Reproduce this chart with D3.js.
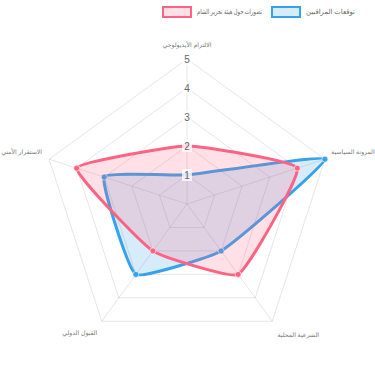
<!DOCTYPE html>
<html>
<head>
<meta charset="utf-8">
<script src="https://cdn.jsdelivr.net/npm/d3@7"></script>
<style>
  body { margin: 0; background: #fff; }
  svg { display: block; font-family: "Liberation Sans", "DejaVu Sans", sans-serif; }
</style>
</head>
<body>
<div id="chart"></div>
<script>
// axes (clockwise from top)
const axes = ["الالتزام الأيديولوجي", "المرونة السياسية", "الشرعية المحلية", "القبول الدولي", "الاستقرار الأمني"];
const seriesNames = ["تصورات حول هيئة تحرير الشام", "توقعات المراقبين"];
const perceptions = [2, 4, 3, 2, 4];
const observers = [1, 5, 2, 3, 3];
const ticks = [1, 2, 3, 4, 5];

const W = 375, H = 375;
const cx = 187, cy = 204, R = 145;
const colors = ["rgb(255,99,132)", "rgb(54,162,235)"];
const fills = ["rgba(255,99,132,0.2)", "rgba(54,162,235,0.2)"];

const svg = d3.select("#chart").append("svg").attr("width", W).attr("height", H);

const r = d3.scaleLinear().domain([0, 5]).range([0, R]);
const angle = d3.scaleLinear().domain([0, axes.length]).range([-Math.PI / 2, 1.5 * Math.PI]);
const pt = (i, v) => [cx + r(v) * Math.cos(angle(i)), cy + r(v) * Math.sin(angle(i))];

// grid
const grid = svg.append("g");
ticks.forEach(t => {
  grid.append("path")
    .attr("d", d3.line()(axes.map((a, i) => pt(i, t))) + "Z")
    .attr("fill", "none").attr("stroke", "rgba(0,0,0,0.1)").attr("stroke-width", 1);
});
axes.forEach((a, i) => {
  const [x, y] = pt(i, 5);
  grid.append("line").attr("x1", cx).attr("y1", cy).attr("x2", x).attr("y2", y)
    .attr("stroke", "rgba(0,0,0,0.1)").attr("stroke-width", 1);
});

// spline like chart.js (tension)
function splinePath(points, tension) {
  const n = points.length;
  const cps = points.map((p, i) => {
    const prev = points[(i - 1 + n) % n], next = points[(i + 1) % n];
    const d01 = Math.hypot(p[0] - prev[0], p[1] - prev[1]);
    const d12 = Math.hypot(next[0] - p[0], next[1] - p[1]);
    const s01 = d01 / (d01 + d12), s12 = d12 / (d01 + d12);
    const fa = tension * s01, fb = tension * s12;
    return {
      prev: [p[0] - fa * (next[0] - prev[0]), p[1] - fa * (next[1] - prev[1])],
      next: [p[0] + fb * (next[0] - prev[0]), p[1] + fb * (next[1] - prev[1])]
    };
  });
  const path = d3.path();
  path.moveTo(points[0][0], points[0][1]);
  for (let i = 0; i < n; i++) {
    const j = (i + 1) % n;
    path.bezierCurveTo(cps[i].next[0], cps[i].next[1], cps[j].prev[0], cps[j].prev[1], points[j][0], points[j][1]);
  }
  path.closePath();
  return path.toString();
}

// draw datasets, last first so first ends on top
const datasets = [perceptions, observers];
for (let k = datasets.length - 1; k >= 0; k--) {
  const pts = datasets[k].map((v, i) => pt(i, v));
  const g = svg.append("g");
  g.append("path").attr("d", splinePath(pts, 0.12))
    .attr("fill", fills[k]).attr("stroke", colors[k]).attr("stroke-width", 3);
  g.selectAll("circle").data(pts).join("circle")
    .attr("cx", d => d[0]).attr("cy", d => d[1]).attr("r", 3)
    .attr("fill", colors[k]).attr("stroke", "rgba(255,255,255,0.6)").attr("stroke-width", 1);
}

// tick labels with backdrop
const tg = svg.append("g");
ticks.forEach(t => {
  const y = cy - r(t);
  tg.append("rect").attr("x", cx - 5).attr("y", y - 6).attr("width", 10).attr("height", 12)
    .attr("fill", "rgba(255,255,255,0.75)");
  tg.append("text").attr("x", cx).attr("y", y).attr("dy", "0.35em")
    .attr("text-anchor", "middle").attr("font-size", 10).attr("fill", "#666").text(t);
});

// point labels
const lg = svg.append("g");
axes.forEach((a, i) => {
  const [x, y] = pt(i, 5);
  let lx = x, ly = y, anchor = "middle";
  if (i === 0) ly = y - 14;
  else if (i === 1) { lx = x + 8; ly = y - 7; anchor = "start"; }
  else if (i === 4) { lx = x - 7; ly = y - 7; anchor = "end"; }
  else if (i === 2) { lx = x + 26; ly = y + 14; }
  else { lx = x - 22; ly = y + 12; }
  const t = lg.append("text").attr("x", lx).attr("y", ly).attr("dy", "0.35em")
    .attr("text-anchor", anchor).attr("font-size", 6.2).attr("fill", "#777").text(a);
  // keep side labels inside the picture
  const bb = t.node().getBBox();
  if (bb.x + bb.width > W) t.attr("x", lx - (bb.x + bb.width - W));
  if (bb.x < 0) t.attr("x", lx - bb.x);
});

// legend
const legend = svg.append("g");
const legendX = [163, 272];
const legendW = [65, 49];
seriesNames.forEach((name, k) => {
  const x0 = legendX[k];
  legend.append("rect").attr("x", x0).attr("y", 7).attr("width", 28).attr("height", 10)
    .attr("fill", fills[k]).attr("stroke", colors[k]).attr("stroke-width", 2);
  legend.append("text").attr("x", x0 + 34).attr("y", 12).attr("dy", "0.35em")
    .attr("text-anchor", "start")
    .attr("textLength", legendW[k]).attr("lengthAdjust", "spacingAndGlyphs")
    .attr("font-size", 7).attr("fill", "#666").text(name);
});
</script>
</body>
</html>
